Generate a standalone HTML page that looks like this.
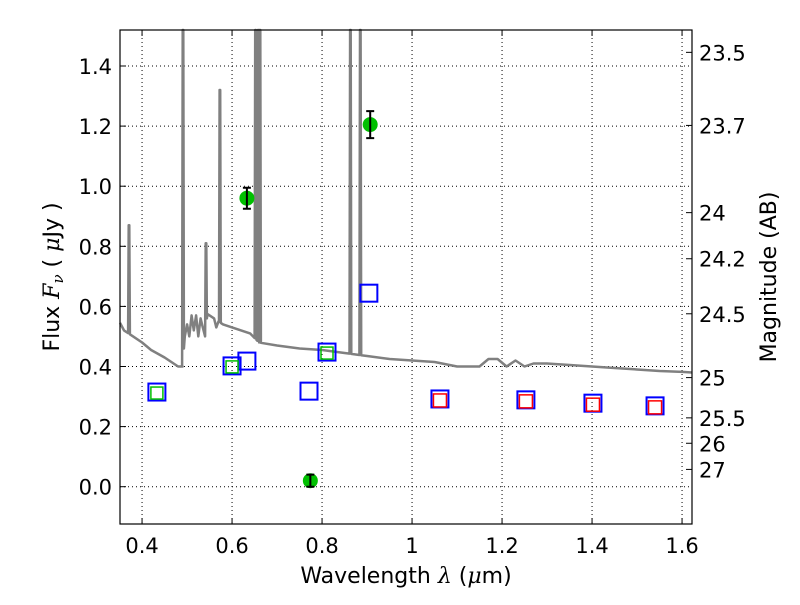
<!DOCTYPE html>
<html><head><meta charset="utf-8"><style>
body{margin:0;background:#fff}
svg text{font-family:"DejaVu Sans","Liberation Sans",sans-serif;fill:#000}
</style></head><body>
<svg id="chart" width="800" height="600" viewBox="0 0 800 600" xmlns="http://www.w3.org/2000/svg">
<g id="grid"></g>
<g id="plot"></g>
<rect x="120" y="30" width="572" height="494" fill="none" stroke="#000" stroke-width="1.2"/>
<g id="axes"></g>
<text x="406" y="583" font-size="22" text-anchor="middle">Wavelength  <tspan font-style="italic" font-family="DejaVu Serif,serif">λ</tspan> (<tspan font-style="italic" font-family="DejaVu Serif,serif">μ</tspan>m)</text>
<text transform="translate(59,277) rotate(-90)" font-size="22" text-anchor="middle">Flux  <tspan font-style="italic" font-family="DejaVu Serif,serif">F</tspan><tspan font-size="15" dy="4" font-style="italic" font-family="DejaVu Serif,serif">ν</tspan><tspan dy="-4">  ( <tspan font-style="italic" font-family="DejaVu Serif,serif">μ</tspan>Jy )</tspan></text>
<text transform="translate(776,277) rotate(-90)" font-size="22" text-anchor="middle">Magnitude (AB)</text>
</svg>
<script>
const xTicks=[0.4,0.6,0.8,1.0,1.2,1.4,1.6];
const xTickLabels=["0.4","0.6","0.8","1","1.2","1.4","1.6"];
const yTicks=[0.0,0.2,0.4,0.6,0.8,1.0,1.2,1.4];
const yTickLabels=["0.0","0.2","0.4","0.6","0.8","1.0","1.2","1.4"];
const magTicks=[23.5,23.7,24,24.2,24.5,25,25.5,26,27];
const magLabels=["23.5","23.7","24","24.2","24.5","25","25.5","26","27"];
const contLam=[0.351,0.36,0.38,0.40,0.42,0.45,0.48,0.49,0.495,0.50,0.505,0.51,0.515,0.52,0.525,0.53,0.535,0.54,0.545,0.55,0.56,0.565,0.57,0.58,0.60,0.62,0.64,0.66,0.70,0.75,0.80,0.85,0.90,0.95,1.0,1.05,1.10,1.15,1.17,1.19,1.21,1.23,1.25,1.27,1.30,1.35,1.40,1.45,1.50,1.55,1.60,1.622];
const contFlux=[0.545,0.52,0.50,0.48,0.455,0.43,0.40,0.40,0.50,0.54,0.50,0.57,0.52,0.57,0.50,0.56,0.53,0.50,0.575,0.57,0.56,0.53,0.55,0.54,0.53,0.52,0.51,0.48,0.47,0.46,0.455,0.445,0.435,0.425,0.42,0.415,0.40,0.40,0.425,0.425,0.40,0.42,0.40,0.41,0.41,0.405,0.40,0.395,0.39,0.385,0.382,0.38];
const lineLam=[0.371,0.491,0.542,0.573,0.652,0.658,0.662,0.863,0.885];
const linePeak=[0.87,1.6,0.81,1.32,1.6,1.6,1.6,1.6,1.6];
const photLam=[0.433,0.600,0.633,0.771,0.811,0.904,1.062,1.253,1.402,1.540];
const photFlux=[0.315,0.402,0.418,0.318,0.448,0.644,0.292,0.289,0.278,0.269];
const greenLam=[0.433,0.600,0.811];
const greenFlux=[0.315,0.402,0.448];
const redLam=[1.062,1.253,1.402,1.540];
const redFlux=[0.292,0.289,0.278,0.269];
const obsLam=[0.633,0.907,0.774];
const obsFlux=[0.96,1.205,0.02];
const obsErr=[0.035,0.045,0.02];

const NS="http://www.w3.org/2000/svg";
const X0=120,X1=692,Y0=30,Y1=524;
const xs=l=>120+(l-0.351)*450;
const ys=f=>486.7-f*300.5;
function mk(tag,attrs,parent){const e=document.createElementNS(NS,tag);for(const k in attrs)e.setAttribute(k,attrs[k]);parent.appendChild(e);return e;}
const grid=document.getElementById('grid'),plot=document.getElementById('plot'),axes=document.getElementById('axes');
xTicks.forEach((t,i)=>{const x=xs(t);
 const g=mk('line',{x1:x,x2:x,y1:Y0,y2:Y1,stroke:'#000','stroke-width':1,'stroke-dasharray':'1,3'},grid);
 
 mk('line',{x1:x,x2:x,y1:Y1,y2:Y1-6,stroke:'#000'},axes);mk('line',{x1:x,x2:x,y1:Y0,y2:Y0+6,stroke:'#000'},axes);
 const tx=mk('text',{x:x,y:553,'font-size':21,'text-anchor':'middle'},axes);tx.textContent=xTickLabels[i];
 });
yTicks.forEach((t,i)=>{const y=ys(t);
 const g=mk('line',{x1:X0,x2:X1,y1:y,y2:y,stroke:'#000','stroke-width':1,'stroke-dasharray':'1,3'},grid);
 
 mk('line',{x1:X0,x2:X0+6,y1:y,y2:y,stroke:'#000'},axes);
 const tx=mk('text',{x:112,y:y+8,'font-size':21,'text-anchor':'end'},axes);tx.textContent=yTickLabels[i];
 });
magTicks.forEach((m,i)=>{const y=ys(Math.pow(10,(23.9-m)/2.5));
 mk('line',{x1:X1,x2:X1-6,y1:y,y2:y,stroke:'#000'},axes);
 const tx=mk('text',{x:699,y:y+8,'font-size':21},axes);tx.textContent=magLabels[i];
 });
let pts=[];
function cont(l){for(let i=0;i<contLam.length-1;i++){if(l>=contLam[i]&&l<=contLam[i+1]){const t=(l-contLam[i])/(contLam[i+1]-contLam[i]);return contFlux[i]+t*(contFlux[i+1]-contFlux[i]);}}return contFlux[contFlux.length-1];}
let events=[];contLam.forEach(l=>events.push([l,null]));lineLam.forEach((l,i)=>events.push([l,i]));
events.sort((a,b)=>a[0]-b[0]);
events.forEach(([l,i])=>{if(i===null){pts.push([l,cont(l)]);}else{const w=0.002;pts.push([l-w,cont(l-w)],[l-w/3,linePeak[i]],[l+w/3,linePeak[i]],[l+w,cont(l+w)]);}});
const sp=mk('polyline',{points:pts.map(p=>xs(p[0]).toFixed(1)+','+Math.max(ys(p[1]),Y0).toFixed(1)).join(' '),fill:'none',stroke:'#808080','stroke-width':2.5,'stroke-linejoin':'round'},plot);

photLam.forEach((l,i)=>{const r=mk('rect',{x:xs(l)-8.5,y:ys(photFlux[i])-8.5,width:17,height:17,fill:'none',stroke:'#0000ff','stroke-width':2},plot);
 });
greenLam.forEach((l,i)=>{const r=mk('rect',{x:xs(l)-6,y:ys(greenFlux[i])-5,width:12,height:12,fill:'none',stroke:'#00c000','stroke-width':1.5},plot);
 });
redLam.forEach((l,i)=>{const r=mk('rect',{x:xs(l)-6.5,y:ys(redFlux[i])-5,width:13,height:13,fill:'none',stroke:'#ff0000','stroke-width':1.5},plot);
 });
obsLam.forEach((l,i)=>{const x=xs(l),y=ys(obsFlux[i]);
 const c=mk('circle',{cx:x,cy:y,r:7.5,fill:'#00c000'},plot);
 
 const y1=ys(obsFlux[i]+obsErr[i]),y2=ys(obsFlux[i]-obsErr[i]);
 const e=mk('path',{d:`M${x},${y1}V${y2}M${x-4},${y1}H${x+4}M${x-4},${y2}H${x+4}`,stroke:'#000','stroke-width':2,fill:'none'},plot);
 });
</script>
</body></html>
